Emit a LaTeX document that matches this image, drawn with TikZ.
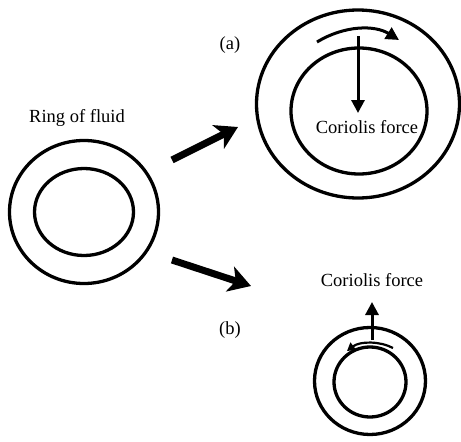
\documentclass[tikz,border=0pt]{standalone}
\usepackage{fontspec}
\setmainfont{Liberation Serif}
\usetikzlibrary{shapes.geometric, arrows.meta, positioning}

\begin{document}
\begin{tikzpicture}[x=1pt, y=-1pt,
  ring/.style={ellipse, draw, line width=3.3pt, inner sep=0pt},
  lbl/.style={font=\fontsize{18.5}{20}\selectfont, inner sep=0pt},
  bigarrow/.style={line width=7pt, -{Stealth[length=22pt, width=26pt, inset=6pt]}},
  flowarrow/.style={line width=3pt, -{Triangle[length=13pt, width=13pt]}}]
  \useasboundingbox (0,0) rectangle (461,442);
  % ring of fluid
  \node[ring, minimum width=149pt, minimum height=143pt] (outerL) at (84,212) {};
  \node[ring, minimum width=99pt, minimum height=87pt] (innerL) at (84,212) {};
  \node[lbl] (ringText) at (77,118) {Ring of fluid};
  % case (a)
  \node[ring, minimum width=203pt, minimum height=188pt] (outerA) at (358,104) {};
  \node[ring, minimum width=136pt, minimum height=126pt] (innerA) at (359,111) {};
  \node[lbl] (labelA) at (230,45) {(a)};
  \node[lbl] (forceA) at (367,127) {Coriolis force};
  \coordinate (flowA1) at (317,42);
  \coordinate (flowA2) at (399,40);
  \coordinate (forceA1) at (358,36);
  \coordinate (forceA2) at (358,113);
  \draw[flowarrow] (flowA1) .. controls (345,25) and (375,25) .. (flowA2);
  \draw[flowarrow] (forceA1) -- (forceA2);
  % case (b)
  \node[ring, minimum width=111pt, minimum height=107pt] (outerB) at (370,381) {};
  \node[ring, minimum width=72pt, minimum height=70pt] (innerB) at (370,382) {};
  \node[lbl] (labelB) at (230,330) {(b)};
  \node[lbl] (forceB) at (372,280) {Coriolis force};
  \coordinate (flowB1) at (393,348);
  \coordinate (flowB2) at (347,351);
  \coordinate (forceB1) at (372,340);
  \coordinate (forceB2) at (372,302);
  \draw[line width=2.2pt, -{Triangle[length=8pt, width=9pt]}]
    (flowB1) .. controls (380,341) and (360,341) .. (flowB2);
  \draw[flowarrow] (forceB1) -- (forceB2);
  % arrows between the rings
  \coordinate (tailA) at (172,160);
  \coordinate (tipA) at (238,127);
  \coordinate (tailB) at (172,260);
  \coordinate (tipB) at (251,286);
  \draw[bigarrow] (tailA) -- (tipA);
  \draw[bigarrow] (tailB) -- (tipB);
\end{tikzpicture}
\end{document}
